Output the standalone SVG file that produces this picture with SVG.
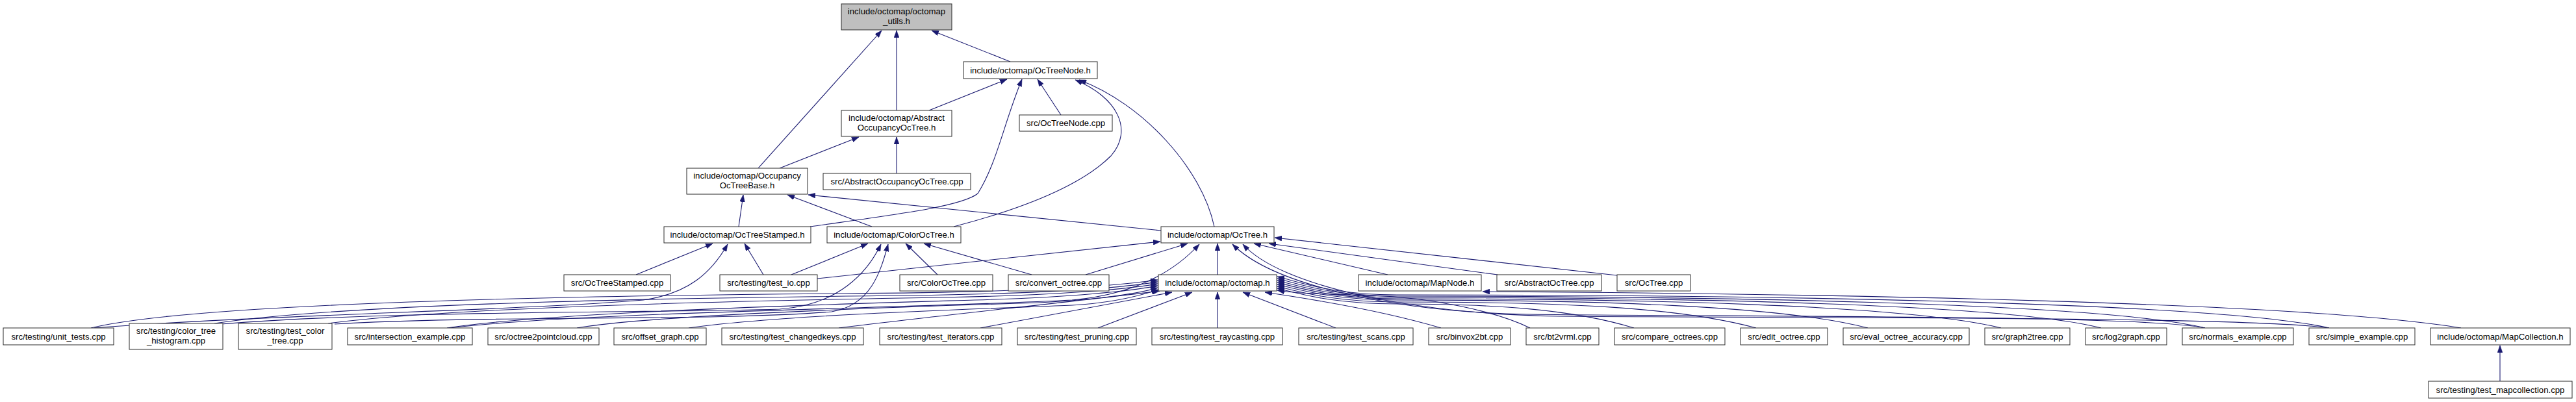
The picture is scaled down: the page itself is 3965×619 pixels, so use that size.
<svg xmlns="http://www.w3.org/2000/svg" width="3965" height="619" viewBox="0 0 3965 619">
<style>
.n rect{fill:#ffffff;stroke:#2b2b2b;stroke-width:1}
.n.root rect{fill:#bfbfbf}
.n text{font-family:"Liberation Sans",Arial,sans-serif;font-size:13.2px;fill:#000;text-anchor:middle}
.e path{fill:none;stroke:#191970;stroke-width:1.1;marker-end:url(#arr)}
</style>
<defs>
<marker id="arr" viewBox="0 0 11 8" refX="11" refY="4" markerWidth="11" markerHeight="8" markerUnits="userSpaceOnUse" orient="auto">
<path d="M0,0 L11,4 L0,8 z" fill="#191970" stroke="#191970" stroke-width="0.5"/>
</marker>
</defs>
<rect width="3965" height="619" fill="#ffffff"/>
<g id="edges" class="e">
<path d="M1555,95 L1434,47"/>
<path d="M1380,170 L1380,47"/>
<path d="M1167,259 L1357,47"/>
<path d="M1430,170 L1550,122"/>
<path d="M1633,177 L1597,122"/>
<path d="M1247,349 C1380,330 1480,318 1505,298 C1535,250 1545,190 1573,122"/>
<path d="M1468,349 C1560,325 1660,290 1710,240 C1745,200 1720,150 1655,123"/>
<path d="M1869,349 C1850,260 1760,160 1661,123"/>
<path d="M1200,259 L1322,211"/>
<path d="M1380,267 L1380,211"/>
<path d="M1137,349 L1144,300"/>
<path d="M1342,349 L1212,300"/>
<path d="M1787,355 L1244,300"/>
<path d="M979,423 L1097,375"/>
<path d="M1175,423 L1146,375"/>
<path d="M1218,423 L1336,375"/>
<path d="M1258,429 L1786,372"/>
<path d="M1443,423 L1394,375"/>
<path d="M1588,423 L1422,375"/>
<path d="M1671,423 L1828,375"/>
<path d="M1874,423 L1874,375"/>
<path d="M2136,423 L1930,375"/>
<path d="M2305,423 L1953,375"/>
<path d="M2489,424 L1962,366"/>
<path d="M140,505 C300,466 900,455 1300,452 C1600,450 1720,440 1782,431"/>
<path d="M145,505 C400,485 800,478 990,462 C1060,452 1095,420 1120,376"/>
<path d="M330,498 C550,465 1100,458 1400,455 C1600,452 1720,444 1782,434"/>
<path d="M340,499 C600,478 1000,482 1200,476 C1290,470 1335,420 1356,376"/>
<path d="M505,498 C700,472 1200,462 1450,458 C1620,455 1730,446 1782,437"/>
<path d="M515,499 C750,485 1100,495 1280,480 C1340,470 1355,420 1367,376"/>
<path d="M688,505 C850,480 1300,468 1500,462 C1650,458 1740,448 1782,440"/>
<path d="M692,505 C900,480 1400,475 1650,462 C1760,452 1815,410 1846,376"/>
<path d="M888,505 C1000,485 1400,472 1600,466 C1700,461 1760,450 1782,443"/>
<path d="M1060,505 C1200,485 1500,476 1650,470 C1720,466 1765,452 1783,446"/>
<path d="M1291,505 C1450,485 1650,465 1785,448"/>
<path d="M1509,505 L1804,450"/>
<path d="M1690,505 L1835,450"/>
<path d="M1874,505 L1874,450"/>
<path d="M2056,505 L1913,450"/>
<path d="M2218,505 C2150,485 2050,465 1947,450"/>
<path d="M2355,505 C2300,478 2200,458 2110,455 C2040,453 1995,452 1966,447"/>
<path d="M2515,505 C2420,476 2300,468 2150,468 C2050,468 2000,452 1966,444"/>
<path d="M2703,505 C2580,472 2400,465 2150,465 C2050,465 2000,449 1966,441"/>
<path d="M2875,505 C2740,470 2450,462 2150,462 C2050,462 2000,446 1966,438"/>
<path d="M3080,505 C2930,468 2500,460 2150,460 C2050,460 2000,443 1966,435"/>
<path d="M3234,505 C3080,466 2550,458 2150,458 C2050,458 2000,440 1966,432"/>
<path d="M3394,505 C3230,465 2600,456 2150,456 C2050,456 2000,437 1966,429"/>
<path d="M3585,505 C3400,463 2650,454 2150,454 C2050,454 2000,434 1966,426"/>
<path d="M3394,505 C3300,485 2700,488 2350,484 C2150,480 1960,440 1897,376"/>
<path d="M3585,505 C3450,487 2800,490 2400,487 C2170,483 1970,440 1913,376"/>
<path d="M3788,505 C3550,465 2800,452 2282,449"/>
<path d="M3848,587 L3848,532"/>
</g>
<g id="n_utils" class="n root"><rect x="1295" y="6" width="170" height="40"/><text x="1380" y="22">include/octomap/octomap</text><text x="1380" y="37">_utils.h</text></g>
<g id="n_octreenode_h" class="n"><rect x="1483" y="95" width="206" height="26"/><text x="1586" y="113">include/octomap/OcTreeNode.h</text></g>
<g id="n_abstractocc_h" class="n"><rect x="1295" y="170" width="170" height="40"/><text x="1380" y="186">include/octomap/Abstract</text><text x="1380" y="201">OccupancyOcTree.h</text></g>
<g id="n_octreenode_cpp" class="n"><rect x="1569" y="177" width="143" height="25"/><text x="1640.5" y="194">src/OcTreeNode.cpp</text></g>
<g id="n_occbase_h" class="n"><rect x="1057" y="259" width="186" height="40"/><text x="1150" y="275">include/octomap/Occupancy</text><text x="1150" y="290">OcTreeBase.h</text></g>
<g id="n_abstractocc_cpp" class="n"><rect x="1267" y="267" width="227" height="25"/><text x="1380.5" y="284">src/AbstractOccupancyOcTree.cpp</text></g>
<g id="n_stamped_h" class="n"><rect x="1022" y="349" width="226" height="25"/><text x="1135" y="366">include/octomap/OcTreeStamped.h</text></g>
<g id="n_color_h" class="n"><rect x="1273" y="349" width="206" height="25"/><text x="1376" y="366">include/octomap/ColorOcTree.h</text></g>
<g id="n_octree_h" class="n"><rect x="1787" y="349" width="174" height="25"/><text x="1874" y="366">include/octomap/OcTree.h</text></g>
<g id="n_stamped_cpp" class="n"><rect x="868" y="423" width="164" height="25"/><text x="950" y="440">src/OcTreeStamped.cpp</text></g>
<g id="n_test_io" class="n"><rect x="1108" y="423" width="150" height="25"/><text x="1183" y="440">src/testing/test_io.cpp</text></g>
<g id="n_color_cpp" class="n"><rect x="1385" y="423" width="143" height="25"/><text x="1456.5" y="440">src/ColorOcTree.cpp</text></g>
<g id="n_convert" class="n"><rect x="1552" y="423" width="155" height="25"/><text x="1629.5" y="440">src/convert_octree.cpp</text></g>
<g id="n_octomap_h" class="n"><rect x="1783" y="423" width="182" height="25"/><text x="1874" y="440">include/octomap/octomap.h</text></g>
<g id="n_mapnode_h" class="n"><rect x="2091" y="423" width="189" height="25"/><text x="2185.5" y="440">include/octomap/MapNode.h</text></g>
<g id="n_abstractoctree_cpp" class="n"><rect x="2304" y="423" width="161" height="25"/><text x="2384.5" y="440">src/AbstractOcTree.cpp</text></g>
<g id="n_octree_cpp" class="n"><rect x="2489" y="423" width="113" height="25"/><text x="2545.5" y="440">src/OcTree.cpp</text></g>
<g id="n_unit_tests" class="n"><rect x="5" y="505" width="170" height="26"/><text x="90" y="523">src/testing/unit_tests.cpp</text></g>
<g id="n_color_tree_histogram" class="n"><rect x="199" y="498" width="144" height="40"/><text x="271" y="514">src/testing/color_tree</text><text x="271" y="529">_histogram.cpp</text></g>
<g id="n_test_color_tree" class="n"><rect x="367" y="498" width="144" height="40"/><text x="439" y="514">src/testing/test_color</text><text x="439" y="529">_tree.cpp</text></g>
<g id="n_intersection" class="n"><rect x="535" y="505" width="192" height="26"/><text x="631" y="523">src/intersection_example.cpp</text></g>
<g id="n_octree2pointcloud" class="n"><rect x="751" y="505" width="171" height="26"/><text x="836.5" y="523">src/octree2pointcloud.cpp</text></g>
<g id="n_offset_graph" class="n"><rect x="945" y="505" width="142" height="26"/><text x="1016" y="523">src/offset_graph.cpp</text></g>
<g id="n_test_changedkeys" class="n"><rect x="1111" y="505" width="218" height="26"/><text x="1220" y="523">src/testing/test_changedkeys.cpp</text></g>
<g id="n_test_iterators" class="n"><rect x="1354" y="505" width="188" height="26"/><text x="1448" y="523">src/testing/test_iterators.cpp</text></g>
<g id="n_test_pruning" class="n"><rect x="1566" y="505" width="183" height="26"/><text x="1657.5" y="523">src/testing/test_pruning.cpp</text></g>
<g id="n_test_raycasting" class="n"><rect x="1773" y="505" width="201" height="26"/><text x="1873.5" y="523">src/testing/test_raycasting.cpp</text></g>
<g id="n_test_scans" class="n"><rect x="1999" y="505" width="176" height="26"/><text x="2087" y="523">src/testing/test_scans.cpp</text></g>
<g id="n_binvox2bt" class="n"><rect x="2199" y="505" width="126" height="26"/><text x="2262" y="523">src/binvox2bt.cpp</text></g>
<g id="n_bt2vrml" class="n"><rect x="2349" y="505" width="112" height="26"/><text x="2405" y="523">src/bt2vrml.cpp</text></g>
<g id="n_compare_octrees" class="n"><rect x="2485" y="505" width="170" height="26"/><text x="2570" y="523">src/compare_octrees.cpp</text></g>
<g id="n_edit_octree" class="n"><rect x="2679" y="505" width="134" height="26"/><text x="2746" y="523">src/edit_octree.cpp</text></g>
<g id="n_eval_octree_accuracy" class="n"><rect x="2837" y="505" width="194" height="26"/><text x="2934" y="523">src/eval_octree_accuracy.cpp</text></g>
<g id="n_graph2tree" class="n"><rect x="3055" y="505" width="131" height="26"/><text x="3120.5" y="523">src/graph2tree.cpp</text></g>
<g id="n_log2graph" class="n"><rect x="3210" y="505" width="125" height="26"/><text x="3272.5" y="523">src/log2graph.cpp</text></g>
<g id="n_normals_example" class="n"><rect x="3359" y="505" width="171" height="26"/><text x="3444.5" y="523">src/normals_example.cpp</text></g>
<g id="n_simple_example" class="n"><rect x="3554" y="505" width="163" height="26"/><text x="3635.5" y="523">src/simple_example.cpp</text></g>
<g id="n_mapcollection_h" class="n"><rect x="3741" y="505" width="215" height="26"/><text x="3848.5" y="523">include/octomap/MapCollection.h</text></g>
<g id="n_test_mapcollection" class="n"><rect x="3738" y="587" width="221" height="26"/><text x="3848.5" y="605">src/testing/test_mapcollection.cpp</text></g>
</svg>
